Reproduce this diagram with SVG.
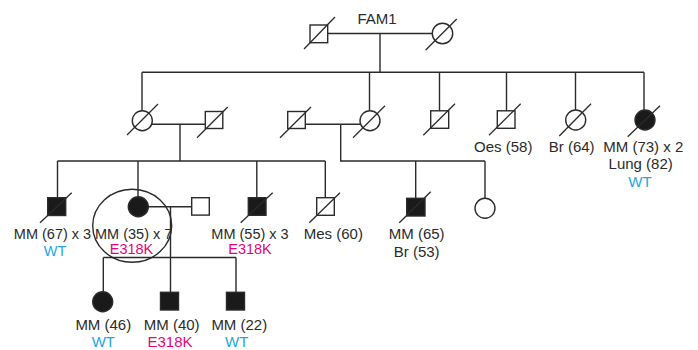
<svg xmlns="http://www.w3.org/2000/svg" width="698" height="350" viewBox="0 0 698 350">
<style>
.ln{stroke:#2b2b2b;stroke-width:1.4;fill:none}
.op{stroke:#2b2b2b;stroke-width:1.4;fill:#fff}
.fl{stroke:#2b2b2b;stroke-width:1.4;fill:#1a1a1a}
.dg{stroke:#2b2b2b;stroke-width:1.3}
text{font-family:"Liberation Sans",Arial,sans-serif;font-size:15px;fill:#2b2b2b;text-anchor:middle}
.sm{font-size:14.5px}
.wt{fill:#1ea8e0}
.mu{fill:#e5047f}
</style>
<g id="connectors">
<path class="ln" d="M328 33.5H432 M380 33.5V72.3 M142 72.3H644 M142 72.3V110.7 M369.5 72.3V110 M439.5 72.3V111 M506.5 72.3V111 M575.5 72.3V110 M644 72.3V110"/>
<path class="ln" d="M152 124.3H205.5 M180 124.3V161 M57.5 161H325.3 M57.5 161V198 M138 161V196.7 M256.8 161V198 M325.3 161V198"/>
<path class="ln" d="M305.3 124.3H360 M340.7 124.3V161 H485 M415.7 161V198.3 M485 161V198.3"/>
<path class="ln" d="M148 206.7H191.7 M170.5 206.7V292.3 M103.3 257.5H236 M103.3 257.5V291.7 M236 257.5V292.3"/>
</g>
<g id="n-fam1-father"><rect class="op" x="310" y="25" width="17.7" height="17.7"/><line class="dg" x1="304" y1="49" x2="335" y2="17"/></g>
<g id="n-fam1-mother"><circle class="op" cx="442.5" cy="33.5" r="10.2"/><line class="dg" x1="425.7" y1="50" x2="456.7" y2="19"/></g>
<text x="377" y="24">FAM1</text>
<g id="n-g2-f1"><circle class="op" cx="142.3" cy="120.7" r="10"/><line class="dg" x1="127" y1="135" x2="158" y2="104"/></g>
<g id="n-g2-m1"><rect class="op" x="205.3" y="111.5" width="17.5" height="17"/><line class="dg" x1="197" y1="137.7" x2="227.7" y2="107"/></g>
<g id="n-g2-m2"><rect class="op" x="287.7" y="111.5" width="17.6" height="17"/><line class="dg" x1="280" y1="137.7" x2="311" y2="107"/></g>
<g id="n-g2-f2"><circle class="op" cx="370" cy="120.7" r="10"/><line class="dg" x1="353" y1="137.7" x2="385" y2="105.7"/></g>
<g id="n-g2-m3"><rect class="op" x="430.7" y="110.8" width="18" height="17.5"/><line class="dg" x1="423.3" y1="135.3" x2="455" y2="103.7"/></g>
<g id="n-g2-m4"><rect class="op" x="497.3" y="110.8" width="17.7" height="17.5"/><line class="dg" x1="489" y1="135.3" x2="520.7" y2="103.7"/><text x="503.3" y="151.7">Oes (58)</text></g>
<g id="n-g2-f3"><circle class="op" cx="575.7" cy="120" r="10"/><line class="dg" x1="559.3" y1="136" x2="591" y2="103.7"/><text x="571.7" y="151.7">Br (64)</text></g>
<g id="n-g2-f4"><circle class="fl" cx="645" cy="120" r="10"/><line class="dg" x1="627.7" y1="136.7" x2="660" y2="105.7"/><text x="643.3" y="151.7">MM (73) x 2</text><text x="640.7" y="169.3">Lung (82)</text><text class="wt" x="640" y="187">WT</text></g>
<g id="n-g3-a"><rect class="fl" x="47.7" y="197.7" width="18" height="17.8"/><line class="dg" x1="40" y1="222.7" x2="71.7" y2="192.7"/><text class="sm" x="52.5" y="239">MM (67) x 3</text><text class="wt sm" x="55" y="255.5">WT</text></g>
<g id="n-g3-b"><circle class="fl" cx="138.3" cy="206.7" r="10"/><ellipse class="ln" cx="132.2" cy="225.8" rx="39.5" ry="36.5"/><text class="sm" x="133.7" y="239">MM (35) x 7</text><text class="mu sm" x="131.5" y="253.5">E318K</text></g>
<g id="n-g3-c"><rect class="op" x="191.7" y="197.7" width="17.6" height="17.4"/></g>
<g id="n-g3-d"><rect class="fl" x="248.3" y="197.7" width="17.7" height="17.6"/><line class="dg" x1="240.7" y1="222.7" x2="272.7" y2="192.7"/><text class="sm" x="250" y="239">MM (55) x 3</text><text class="mu sm" x="250" y="253.5">E318K</text></g>
<g id="n-g3-e"><rect class="op" x="316.7" y="197.7" width="17.6" height="17.6"/><line class="dg" x1="309.3" y1="222.7" x2="340" y2="192.7"/><text x="333.3" y="239">Mes (60)</text></g>
<g id="n-g3-f"><rect class="fl" x="406.7" y="198.3" width="18.3" height="17.7"/><line class="dg" x1="399.3" y1="222.7" x2="430.7" y2="191.7"/><text x="416.7" y="239">MM (65)</text><text x="416.7" y="256.5">Br (53)</text></g>
<g id="n-g3-g"><circle class="op" cx="485" cy="208.3" r="10"/></g>
<g id="n-g4-h"><circle class="fl" cx="102.7" cy="301.7" r="10"/><text x="103.3" y="330">MM (46)</text><text class="wt" x="103.3" y="346.7">WT</text></g>
<g id="n-g4-i"><rect class="fl" x="160.5" y="292.3" width="18" height="17.7"/><text x="171.7" y="330">MM (40)</text><text class="mu" x="170" y="346.7">E318K</text></g>
<g id="n-g4-j"><rect class="fl" x="226.5" y="292.3" width="18" height="17.7"/><text x="239.3" y="330">MM (22)</text><text class="wt" x="236.7" y="346.7">WT</text></g>
</svg>
